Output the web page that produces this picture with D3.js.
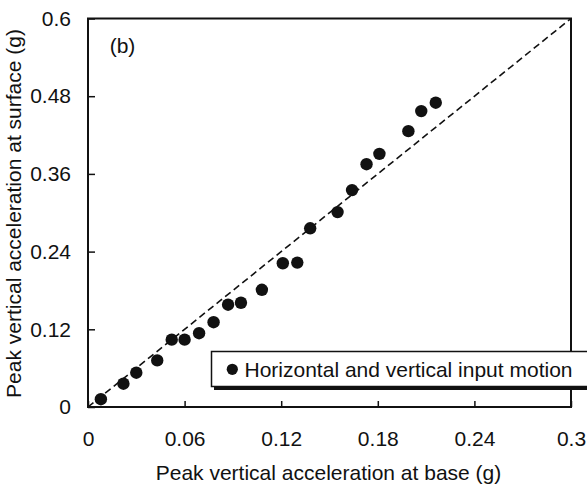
<!DOCTYPE html>
<html>
<head>
<meta charset="utf-8">
<script src="https://cdn.jsdelivr.net/npm/d3@7"></script>
<style>
  html, body { margin: 0; padding: 0; background: #fff; }
  svg text { font-family: "Liberation Sans", Arial, Helvetica, sans-serif; fill: #111; }
</style>
</head>
<body>
<svg id="chart" width="587" height="488"></svg>
<script>
// peak vertical acceleration at base (g)
var baseAcc = [0.008, 0.022, 0.030, 0.043, 0.052, 0.060, 0.069, 0.078, 0.087, 0.095, 0.108,
               0.121, 0.130, 0.138, 0.155, 0.164, 0.173, 0.181, 0.199, 0.207, 0.216];
// peak vertical acceleration at surface (g)
var surfAcc = [0.012, 0.036, 0.053, 0.072, 0.104, 0.104, 0.114, 0.131, 0.158, 0.161, 0.181,
               0.222, 0.223, 0.276, 0.301, 0.335, 0.375, 0.391, 0.426, 0.457, 0.470];
var xTicks = [0, 0.06, 0.12, 0.18, 0.24, 0.3];
var yTicks = [0, 0.12, 0.24, 0.36, 0.48, 0.6];
var refLine = [[0, 0], [0.3, 0.6]];   // 1:1 line
var legendLabel = 'Horizontal and vertical input motion';

(function(){
    var svg = d3.select('#chart');
    var L = 88, R = 571, T = 18.5, B = 407;
    var fs = 21;

    var x = d3.scaleLinear().domain([0, 0.3]).range([L, R]);
    var y = d3.scaleLinear().domain([0, 0.6]).range([B, T]);

    var fmt = function(d){ return d3.format('~g')(+d.toFixed(2)); };

    // axes, ticks pointing inward
    var xAxis = svg.append('g')
        .attr('transform', 'translate(0,' + B + ')')
        .call(d3.axisBottom(x).tickValues(xTicks).tickSizeInner(-6).tickSizeOuter(0).tickPadding(0).tickFormat(fmt));
    var yAxis = svg.append('g')
        .attr('transform', 'translate(' + L + ',0)')
        .call(d3.axisLeft(y).tickValues(yTicks).tickSizeInner(-7).tickSizeOuter(0).tickPadding(0).tickFormat(fmt));

    svg.selectAll('.domain').remove();
    svg.selectAll('.tick line').attr('stroke', '#111').attr('stroke-width', 1.5);
    xAxis.selectAll('.tick text')
        .attr('y', 38.5).attr('dy', null)
        .style('font-size', fs + 'px');
    yAxis.selectAll('.tick text')
        .attr('x', -17)
        .style('font-size', fs + 'px');

    // frame
    svg.append('rect')
        .attr('x', L).attr('y', T)
        .attr('width', R - L).attr('height', B - T)
        .attr('fill', 'none')
        .attr('stroke', '#111')
        .attr('stroke-width', 2);

    // 1:1 dashed line
    svg.append('path')
        .datum(refLine)
        .attr('d', d3.line().x(function(d){ return x(d[0]); }).y(function(d){ return y(d[1]); }))
        .attr('stroke', '#111')
        .attr('stroke-width', 1.6)
        .attr('stroke-dasharray', '7,4')
        .attr('fill', 'none');

    // data points
    svg.append('g').selectAll('circle')
        .data(baseAcc)
        .enter().append('circle')
        .attr('cx', function(d){ return x(d); })
        .attr('cy', function(d, i){ return y(surfAcc[i]); })
        .attr('r', 6.2)
        .attr('fill', '#111');

    // panel label
    svg.append('text')
        .attr('x', 122.5).attr('y', 52.5)
        .attr('text-anchor', 'middle')
        .style('font-size', fs + 'px')
        .text('(b)');

    // legend box with shadow
    var lg = svg.append('g');
    lg.append('rect')
        .attr('x', 214).attr('y', 354)
        .attr('width', 400).attr('height', 36)
        .attr('fill', '#111');
    lg.append('rect')
        .attr('x', 211.5).attr('y', 351.5)
        .attr('width', 400).attr('height', 35)
        .attr('fill', '#fff')
        .attr('stroke', '#111')
        .attr('stroke-width', 1.5);
    lg.append('circle')
        .attr('cx', 232.3).attr('cy', 369.3)
        .attr('r', 5.6)
        .attr('fill', '#111');
    lg.append('text')
        .attr('x', 244.5).attr('y', 376.8)
        .style('font-size', fs + 'px')
        .text(legendLabel);

    // axis titles
    svg.append('text')
        .attr('x', 328.5).attr('y', 480)
        .attr('text-anchor', 'middle')
        .style('font-size', fs + 'px')
        .text('Peak vertical acceleration at base (g)');
    svg.append('text')
        .attr('transform', 'translate(21,' + 213.5 + ') rotate(-90)')
        .attr('text-anchor', 'middle')
        .style('font-size', fs + 'px')
        .text('Peak vertical acceleration at surface (g)');
})();
</script>
</body>
</html>
